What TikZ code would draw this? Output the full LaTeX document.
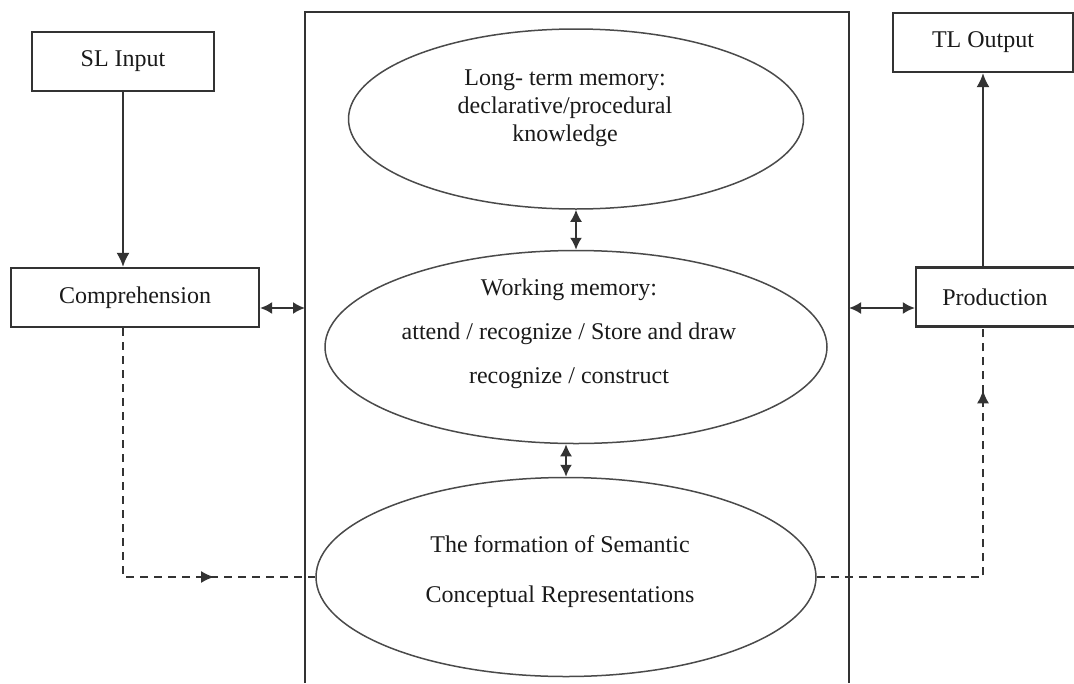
\documentclass[tikz,border=0pt]{standalone}
\usepackage{fontspec}
\setmainfont{Liberation Serif}
\usetikzlibrary{arrows.meta,shapes.geometric,decorations.markings}
\definecolor{linegray}{HTML}{333333}
\definecolor{ellgray}{HTML}{4A4A4A}
\definecolor{txt}{HTML}{1A1A1A}
\begin{document}
\begin{tikzpicture}[x=1pt,y=-1pt,
  box/.style={draw=linegray, line width=2.2pt, fill=white, inner sep=0pt,
    font=\fontsize{24}{28}\selectfont, text=txt},
  ell/.style={ellipse, draw=ellgray, line width=1.5pt, inner sep=0pt},
  lbl/.style={align=center, text=txt, inner sep=0pt},
  solidarrow/.style={draw=linegray, line width=2pt, -{Latex[length=14pt,width=13pt]}},
  dblarrow/.style={draw=linegray, line width=2pt, {Latex[length=12pt,width=12pt]}-{Latex[length=12pt,width=12pt]}},
  dashline/.style={draw=linegray, line width=2pt, dash pattern=on 8pt off 6pt}
]
\useasboundingbox (0,0) rectangle (1074,683);
\fill[white] (0,0) rectangle (1074,683);

% central frame
\draw[linegray, line width=2.2pt] (305,683) -- (305,12) -- (849,12) -- (849,683);
\coordinate (fl) at (305,308);
\coordinate (fr) at (849,308);

% boxes
\node[box, minimum width=182pt, minimum height=59pt] (sl) at (123,61.5) {SL Input};
\node[box, minimum width=180pt, minimum height=59pt] (tl) at (983,42.5) {TL Output};
\node[box, minimum width=248pt, minimum height=59pt] (comp) at (135,297.5) {Comprehension};
\node[box, minimum width=166pt, minimum height=59pt] (prod) at (999,297) {};
\node[lbl, font=\fontsize{24}{28}\selectfont] (prodtext) at (995,297) {Production};

% ellipses
\node[ell, minimum width=455pt, minimum height=180pt] (ltm) at (576,119) {};
\node[ell, minimum width=502pt, minimum height=193pt] (wm) at (576,347) {};
\node[ell, minimum width=500pt, minimum height=199pt] (bot) at (566,577) {};

\node[lbl, font=\fontsize{24}{28}\selectfont] (ltmtext) at (565,108)
  {Long- term memory:\\declarative/procedural\\knowledge};
\node[lbl, font=\fontsize{24}{44}\selectfont] (wmtext) at (569,334)
  {Working memory:\\attend / recognize / Store and draw\\recognize / construct};
\node[lbl, font=\fontsize{24}{50}\selectfont] (bottext) at (560,572)
  {The formation of Semantic\\Conceptual Representations};

% solid connectors
\draw[solidarrow] (sl.south) -- (sl.south |- comp.north);
\draw[solidarrow] (prod.north -| tl.south) -- (tl.south);
\draw[dblarrow] (fl -| comp.east) -- (fl);
\draw[dblarrow] (fr) -- (fr -| prod.west);
\draw[dblarrow] (ltm.south) -- (wm.north);
\draw[dblarrow] (bot.north |- wm.south) -- (bot.north);

% dashed connectors
\draw[dashline, postaction={decorate},
  decoration={markings, mark=at position 340pt with {\arrow{Latex[length=13pt,width=12pt]}}}]
  (sl.south |- comp.south) |- (bot.west);
\draw[dashline, postaction={decorate},
  decoration={markings, mark=at position 353pt with {\arrow{Latex[length=13pt,width=12pt]}}}]
  (bot.east) -| (tl.south |- prod.south);
\end{tikzpicture}
\end{document}
